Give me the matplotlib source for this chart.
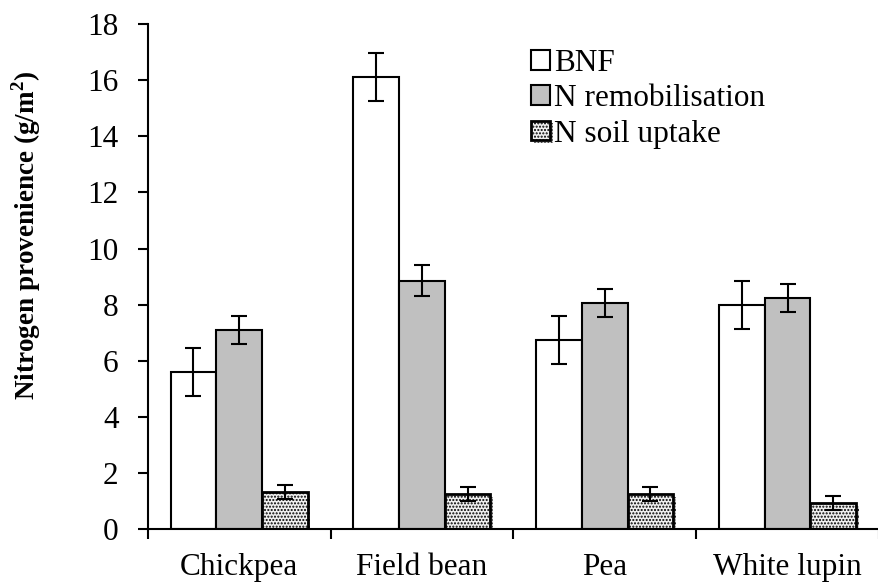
import numpy as np
import matplotlib.pyplot as plt
import matplotlib.patheffects as pe

crops = ['Chickpea', 'Field bean', 'Pea', 'White lupin']
bnf = [5.6, 16.1, 6.75, 8.0]
bnf_err = [0.85, 0.85, 0.85, 0.85]
remob = [7.1, 8.85, 8.05, 8.25]
remob_err = [0.5, 0.55, 0.5, 0.5]
soil = [1.32, 1.25, 1.25, 0.94]
soil_err = [0.25, 0.25, 0.25, 0.25]

plt.rcParams['font.family'] = ['Liberation Serif', 'DejaVu Serif']
plt.rcParams['hatch.color'] = '#8a8a8a'
plt.rcParams['hatch.linewidth'] = 1.0

fig = plt.figure(figsize=(8.79, 5.86), dpi=100)
ax = fig.add_axes([0.168, 0.097, 0.832, 0.862])

x = np.arange(len(crops))
w = 0.25
ekw = dict(ecolor='black', elinewidth=1.5, capsize=6, capthick=1.5)
ax.bar(x - w, bnf, w, yerr=bnf_err, color='white', edgecolor='black', linewidth=1.5, label='BNF', error_kw=ekw)
ax.bar(x, remob, w, yerr=remob_err, color='#c0c0c0', edgecolor='black', linewidth=1.5, label='N remobilisation', error_kw=ekw)
sb = ax.bar(x + w, soil, w, yerr=soil_err, color='#f0f0f0', edgecolor='black', linewidth=2, hatch='.....',
            label='N soil uptake', error_kw=ekw)
for p in sb.patches:
    p.set_path_effects([pe.SimplePatchShadow(offset=(2, -2), alpha=0.25), pe.Normal()])

ax.set_xlim(-0.5, 3.45)
ax.set_ylim(0, 18)
ax.set_yticks(np.arange(0, 19, 2))
ax.set_xticks(x)
ax.set_xticklabels(crops)
ax.set_xticks(np.arange(-0.5, 4, 1), minor=True)
ax.tick_params(axis='x', which='major', length=0, pad=17, labelsize=22.5)
ax.tick_params(axis='x', which='minor', length=7, width=1.5, direction='out')
ax.tick_params(axis='y', length=7, width=1.5, direction='out', pad=14, labelsize=22.5)
for s in ['top', 'right']:
    ax.spines[s].set_visible(False)
for s in ['left', 'bottom']:
    ax.spines[s].set_linewidth(1.5)

ax.set_ylabel('Nitrogen provenience (g/m$^\\mathregular{2}$)', fontsize=19.5, fontweight='bold')
ax.yaxis.set_label_coords(-0.143, 0.582)

ax.legend(loc='upper left', bbox_to_anchor=(0.49, 1.0), frameon=False, fontsize=22.5,
          handlelength=0.6, handleheight=0.6, handletextpad=0.15, labelspacing=0.2, borderpad=0.3)

fig.savefig('out.png', dpi=100)
